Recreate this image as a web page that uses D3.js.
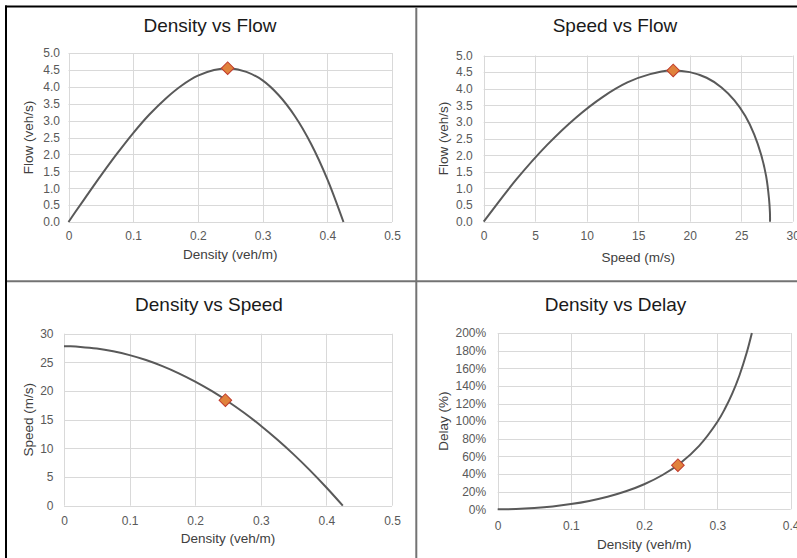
<!DOCTYPE html>
<html>
<head>
<meta charset="utf-8">
<script src="https://cdn.jsdelivr.net/npm/d3@7"></script>
<style>
  body { margin: 0; background: #fff; }
  svg { display: block; font-family: "Liberation Sans", Arial, sans-serif; }
</style>
</head>
<body>
<svg id="chart" width="797" height="558"></svg>
<script>
// Values
var density = [0, 0.005, 0.01, 0.025, 0.05, 0.075, 0.1, 0.125, 0.15, 0.175, 0.2,
    0.225, 0.25, 0.275, 0.3, 0.325, 0.35, 0.375, 0.4, 0.425];
var speed = [27.8, 27.8, 27.79, 27.7, 27.42, 26.93, 26.26, 25.4, 24.34, 23.09, 21.64,
    20.01, 18.18, 16.16, 13.95, 11.54, 8.95, 6.16, 3.17, 0];
var flow = [0, 0.14, 0.28, 0.69, 1.37, 2.02, 2.63, 3.18, 3.65, 4.04, 4.33,
    4.5, 4.55, 4.44, 4.19, 3.75, 3.13, 2.31, 1.27, 0];

var delayDensity = [0, 0.025, 0.05, 0.075, 0.1, 0.125, 0.15, 0.175, 0.2, 0.225,
    0.25, 0.275, 0.3, 0.31, 0.32, 0.33, 0.34, 0.347];
var delayPct = [0, 0.3, 1.4, 3.2, 5.9, 9.5, 14.2, 20.4, 28.4, 38.9,
    52.9, 72.0, 99.3, 113.7, 130.9, 151.8, 177.8, 200];

// the highlighted operating point (orange diamond)
var optimum = { density: 0.246, speed: 18.4, flow: 4.55, delay: 50 };

var densityTicks = [0, 0.1, 0.2, 0.3, 0.4, 0.5];
var delayDensityTicks = [0, 0.1, 0.2, 0.3, 0.4];
var speedTicks = [0, 5, 10, 15, 20, 25, 30];
var flowTicks = [0, 0.5, 1, 1.5, 2, 2.5, 3, 3.5, 4, 4.5, 5];
var speedYTicks = [0, 5, 10, 15, 20, 25, 30];
var delayTicks = [0, 20, 40, 60, 80, 100, 120, 140, 160, 180, 200];

var svg = d3.select("#chart");

var fmtDec = function(d) { return d === 0 ? "0" : d3.format(".1f")(d); };
var fmtInt = d3.format("d");
var fmtOne = d3.format(".1f");
var fmtPct = function(d) { return d + "%"; };

function zip(xs, ys) {
    return xs.map(function(x, i) { return [x, ys[i]]; });
}

/**
 * Draws one Excel-like scatter panel
 */
function drawPanel(cfg) {
    var g = svg.append("g");
    var x = d3.scaleLinear().domain(cfg.xDomain).range([cfg.left, cfg.right]);
    var y = d3.scaleLinear().domain(cfg.yDomain).range([cfg.bottom, cfg.top]);

    // gridlines
    g.append("g").selectAll("line").data(cfg.xTicks.filter(function(t) { return t <= cfg.xDomain[1]; }))
        .join("line")
        .attr("x1", function(d) { return Math.round(x(d)) + 0.5; })
        .attr("x2", function(d) { return Math.round(x(d)) + 0.5; })
        .attr("y1", cfg.top).attr("y2", cfg.bottom)
        .attr("stroke", "#d9d9d9");
    g.append("g").selectAll("line").data(cfg.yTicks)
        .join("line")
        .attr("y1", function(d) { return Math.round(y(d)) + 0.5; })
        .attr("y2", function(d) { return Math.round(y(d)) + 0.5; })
        .attr("x1", cfg.left).attr("x2", cfg.right)
        .attr("stroke", "#d9d9d9");

    // axes (labels only)
    var xAxis = g.append("g")
        .attr("transform", "translate(0," + cfg.bottom + ")")
        .call(d3.axisBottom(x).tickValues(cfg.xTicks).tickFormat(cfg.xFormat)
            .tickSize(0).tickPadding(cfg.xPad));
    var yAxis = g.append("g")
        .attr("transform", "translate(" + cfg.left + ",0)")
        .call(d3.axisLeft(y).tickValues(cfg.yTicks).tickFormat(cfg.yFormat)
            .tickSize(0).tickPadding(cfg.yPad));
    [xAxis, yAxis].forEach(function(a) {
        a.select(".domain").remove();
        a.selectAll("text")
            .attr("fill", "#595959")
            .style("font-size", "12px")
            .style("font-family", "'Liberation Sans', Arial, sans-serif");
    });

    // curve
    var line = d3.line()
        .x(function(d) { return x(d[0]); })
        .y(function(d) { return y(d[1]); })
        .curve(d3.curveCatmullRom);
    g.append("path")
        .datum(cfg.points)
        .attr("d", line)
        .attr("fill", "none")
        .attr("stroke", "#595959")
        .attr("stroke-width", 2);

    // marker
    g.append("path")
        .attr("d", d3.symbol().type(d3.symbolSquare).size(80)())
        .attr("transform", "translate(" + x(cfg.marker[0]) + "," + y(cfg.marker[1]) + ") rotate(45)")
        .attr("fill", "#E0823C")
        .attr("stroke", "#C0392B")
        .attr("stroke-width", 1);

    // titles
    g.append("text")
        .attr("x", cfg.titleX).attr("y", cfg.titleY)
        .attr("text-anchor", "middle")
        .attr("fill", "#1a1a1a")
        .style("font-size", "19px")
        .text(cfg.title);
    g.append("text")
        .attr("x", (cfg.left + cfg.right) / 2).attr("y", cfg.xTitleY)
        .attr("text-anchor", "middle")
        .attr("fill", "#404040")
        .style("font-size", "13.5px")
        .text(cfg.xTitle);
    g.append("text")
        .attr("transform", "translate(" + cfg.yTitleX + "," + (cfg.top + cfg.bottom) / 2 + ") rotate(-90)")
        .attr("text-anchor", "middle")
        .attr("fill", "#404040")
        .style("font-size", "13.5px")
        .text(cfg.yTitle);
}

drawPanel({
    left: 68.5, right: 392, top: 53, bottom: 222,
    xDomain: [0, 0.5], yDomain: [0, 5],
    xTicks: densityTicks, yTicks: flowTicks,
    xFormat: fmtDec, yFormat: fmtOne, xPad: 9.5, yPad: 8.5,
    points: zip(density, flow), marker: [optimum.density, optimum.flow],
    title: "Density vs Flow", titleX: 210, titleY: 32,
    xTitle: "Density (veh/m)", xTitleY: 259,
    yTitle: "Flow (veh/s)", yTitleX: 33
});

drawPanel({
    left: 483.7, right: 792.7, top: 55.5, bottom: 221.7,
    xDomain: [0, 30], yDomain: [0, 5],
    xTicks: speedTicks, yTicks: flowTicks,
    xFormat: fmtInt, yFormat: fmtOne, xPad: 9.5, yPad: 11,
    points: zip(speed, flow), marker: [optimum.speed, optimum.flow],
    title: "Speed vs Flow", titleX: 615, titleY: 32,
    xTitle: "Speed (m/s)", xTitleY: 262,
    yTitle: "Flow (veh/s)", yTitleX: 448
});

drawPanel({
    left: 64, right: 392, top: 333.7, bottom: 505.7,
    xDomain: [0, 0.5], yDomain: [0, 30],
    xTicks: densityTicks, yTicks: speedYTicks,
    xFormat: fmtDec, yFormat: fmtInt, xPad: 10.5, yPad: 10.5,
    points: zip(density, speed), marker: [optimum.density, optimum.speed],
    title: "Density vs Speed", titleX: 209, titleY: 311,
    xTitle: "Density (veh/m)", xTitleY: 543,
    yTitle: "Speed (m/s)", yTitleX: 33
});

drawPanel({
    left: 497.7, right: 790.7, top: 333, bottom: 509.3,
    xDomain: [0, 0.4], yDomain: [0, 200],
    xTicks: delayDensityTicks, yTicks: delayTicks,
    xFormat: fmtDec, yFormat: fmtPct, xPad: 12, yPad: 11.5,
    points: zip(delayDensity, delayPct), marker: [optimum.density, optimum.delay],
    title: "Density vs Delay", titleX: 615.5, titleY: 311,
    xTitle: "Density (veh/m)", xTitleY: 549,
    yTitle: "Delay (%)", yTitleX: 448
});

// frame lines between the four chart objects
svg.append("line").attr("x1", 5).attr("x2", 797).attr("y1", 6.5).attr("y2", 6.5)
    .attr("stroke", "#000").attr("stroke-width", 2);
svg.append("line").attr("x1", 6).attr("x2", 6).attr("y1", 5.5).attr("y2", 558)
    .attr("stroke", "#000").attr("stroke-width", 2);
svg.append("line").attr("x1", 416.3).attr("x2", 416.3).attr("y1", 7.5).attr("y2", 558)
    .attr("stroke", "#737373").attr("stroke-width", 2);
svg.append("line").attr("x1", 7).attr("x2", 797).attr("y1", 281.3).attr("y2", 281.3)
    .attr("stroke", "#737373").attr("stroke-width", 2);
</script>
</body>
</html>
